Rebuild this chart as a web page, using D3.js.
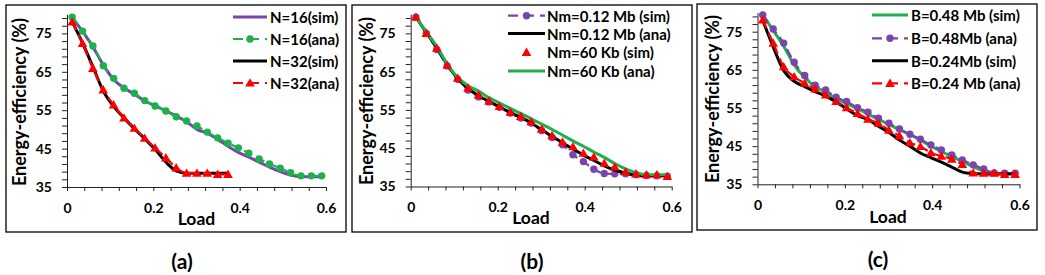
<!DOCTYPE html>
<html><head><meta charset="utf-8">
<script src="https://cdn.jsdelivr.net/npm/d3@7"></script>
<style>
body{margin:0;background:#fff}
text{font-family:Lato,"Open Sans",sans-serif;font-weight:700;fill:#000}
</style>
</head><body><svg id="c" width="1045" height="275"></svg>
<script>
// ---------- data ----------
const loads = [0.012,0.036,0.060,0.084,0.108,0.132,0.156,0.180,0.204,0.229,0.253,0.277,0.301,0.325,0.349,0.373,0.397,0.421,0.445,0.469,0.494,0.518,0.542,0.566,0.590];
const loadsN32 = [0.012,0.036,0.060,0.084,0.108,0.132,0.156,0.180,0.204,0.229,0.253,0.277,0.301,0.325,0.349,0.373];

const yTickLabels = [35,45,55,65,75];
const xTickLabels = [0,0.2,0.4,0.6];
const panelTitles = ["(a)","(b)","(c)"];
const yTitle = "Energy-efficiency (%)";
const xTitle = "Load";

// (a)
const aN16sim = [79.2,75.5,71.5,66.8,63.0,60.8,59.2,57.4,56.2,54.8,53.5,52.0,50.0,49.0,47.4,45.6,44.0,42.8,41.5,40.2,39.0,38.1,37.7,37.7,37.7];
const aN16ana = [79.2,75.6,71.7,66.6,63.3,60.7,59.4,57.5,56.1,54.8,53.3,52.2,50.9,49.3,47.8,46.4,45.2,43.8,42.3,41.0,39.9,38.7,37.9,37.9,37.9];
const aN32sim = [78.0,72.5,66.3,60.0,56.0,53.0,50.2,47.6,44.8,41.5,39.2,38.6,38.6,38.6,38.6,38.6];
const aN32ana = [78.0,72.4,65.9,60.3,56.4,53.0,50.3,47.7,45.2,42.6,40.0,38.6,38.6,38.6,38.3,38.3];
// (b)
const bNm012sim = [79.2,75.0,70.8,66.5,63.0,60.2,58.4,57.1,55.7,54.2,52.9,51.6,49.6,47.8,45.9,43.3,41.5,39.5,38.4,38.3,38.3,38.1,37.9,37.8,37.7];
const bNm012ana = [79.2,75.2,71.3,66.8,63.2,60.6,58.7,57.2,55.8,54.3,53.0,51.6,49.8,48.1,46.4,44.8,43.2,41.8,40.4,39.3,38.5,37.9,37.8,37.8,37.8];
const bNm60sim  = [79.2,75.0,71.1,66.7,63.3,60.7,58.9,57.3,55.9,54.4,53.3,51.9,50.0,48.3,46.6,45.4,43.7,42.7,41.1,40.1,38.8,38.3,38.1,38.1,37.6];
const bNm60ana  = [79.2,75.4,71.6,67.0,63.5,61.3,59.9,58.2,56.8,55.4,54.1,52.7,51.3,49.9,48.4,46.9,45.5,44.0,42.6,41.0,39.6,38.6,38.1,38.1,38.1];
// (c)
const cB048sim = [79.4,75.3,71.2,66.3,63.0,60.6,59.2,57.4,56.2,54.8,53.4,52.0,50.7,49.3,48.0,46.6,45.0,43.6,42.3,41.0,39.6,38.5,37.9,37.8,37.8];
const cB048ana = [79.4,75.7,72.0,67.0,63.5,61.0,59.7,57.8,56.7,55.1,53.9,52.3,51.0,49.5,48.1,46.8,45.3,44.0,42.7,41.4,40.1,39.0,38.0,37.9,37.9];
const cB024sim = [78.0,71.0,64.8,62.0,60.6,59.3,58.1,56.6,54.8,53.0,52.0,50.2,48.6,46.6,45.0,43.2,42.0,40.8,39.5,38.2,37.8,37.7,37.7,37.7,37.7];
const cB024ana = [78.1,72.0,65.8,63.2,61.5,60.0,58.4,56.7,55.1,53.6,52.1,51.0,49.2,47.7,45.9,44.9,43.3,42.4,41.6,40.2,38.0,37.9,37.9,37.6,37.6];

// ---------- styles ----------
const PURPLE = "#7a44ad", GREEN = "#1db14b", RED = "#ff0000", BLACK = "#000000";
const DASH = "9,5";

const panels = [
  {box:[6,5,346,232], x0:67, x1:326, yb:187, yt:14.2, title:[182,269], ytitle:[19,102], xtitle:[196.5,225],
   legend:{x1:233,x2:267,tx:270,rows:[17,39,61,83],fs:15},
   series:[
     {name:"N=16(sim)", xs:loads, ys:aN16sim, color:PURPLE, line:true, dash:null, marker:null},
     {name:"N=16(ana)", xs:loads, ys:aN16ana, color:GREEN, line:true, dash:DASH, marker:"circle"},
     {name:"N=32(sim)", xs:loadsN32, ys:aN32sim, color:BLACK, line:true, dash:null, marker:null},
     {name:"N=32(ana)", xs:loadsN32, ys:aN32ana, color:RED, line:true, dash:DASH, marker:"triangle"}
   ]},
  {box:[352,5,692,232], x0:410.7, x1:671.7, yb:186.5, yt:14.2, title:[532,269], ytitle:[366,101], xtitle:[531,224],
   legend:{x1:508,x2:545,tx:547,rows:[15.7,33.5,52.3,71],fs:15},
   series:[
     {name:"Nm=0.12 Mb (sim)", xs:loads, ys:bNm012sim, color:PURPLE, line:true, dash:DASH, marker:"circle"},
     {name:"Nm=0.12 Mb (ana)", xs:loads, ys:bNm012ana, color:BLACK, line:true, dash:null, marker:null},
     {name:"Nm=60 Kb (ana)", xs:loads, ys:bNm60ana, color:GREEN, line:true, dash:null, marker:null, legendIndex:3},
     {name:"Nm=60 Kb (sim)", xs:loads, ys:bNm60sim, color:RED, line:false, dash:null, marker:"triangle", legendIndex:2}
   ]},
  {box:[697,4,1037,230], x0:757.5, x1:1019.5, yb:184.3, yt:12.6, title:[878,267], ytitle:[712,99], xtitle:[888,222.5],
   legend:{x1:872,x2:908,tx:911,rows:[15,38.3,60.7,83.3],fs:15},
   series:[
     {name:"B=0.48 Mb (sim)", xs:loads, ys:cB048sim, color:GREEN, line:true, dash:null, marker:null},
     {name:"B=0.48Mb (ana)", xs:loads, ys:cB048ana, color:PURPLE, line:true, dash:DASH, marker:"circle"},
     {name:"B=0.24Mb (sim)", xs:loads, ys:cB024sim, color:BLACK, line:true, dash:null, marker:null},
     {name:"B=0.24 Mb (ana)", xs:loads, ys:cB024ana, color:RED, line:true, dash:DASH, marker:"triangle"}
   ]}
];

const svg = d3.select("#c");
const triSym = d3.symbol().type(d3.symbolTriangle).size(40);

function drawMarker(g, type, cx, cy, color){
  if(type==="circle"){
    g.append("circle").attr("cx",cx).attr("cy",cy).attr("r",3.7).attr("fill",color);
  } else if(type==="triangle"){
    g.append("path").attr("d",triSym()).attr("transform",`translate(${cx},${cy+0.8})`).attr("fill",color);
  }
}

panels.forEach((p,pi)=>{
  const g = svg.append("g");
  g.append("rect").attr("x",p.box[0]).attr("y",p.box[1])
    .attr("width",p.box[2]-p.box[0]).attr("height",p.box[3]-p.box[1])
    .attr("fill","none").attr("stroke","#000").attr("stroke-width",1.3);

  const x = d3.scaleLinear().domain([0,0.6]).range([p.x0,p.x1]);
  const y = d3.scaleLinear().domain([35,80]).range([p.yb,p.yt]);

  // y axis
  const yAxis = d3.axisLeft(y).tickValues(d3.range(35,80,2)).tickSize(5).tickSizeOuter(0).tickPadding(10)
    .tickFormat(d=> yTickLabels.includes(d) ? d : "");
  const ya = g.append("g").attr("transform",`translate(${p.x0},0)`).call(yAxis);
  ya.select(".domain").attr("stroke","#222").attr("stroke-width",1);
  ya.selectAll(".tick line").attr("stroke","#222");
  ya.selectAll(".tick text").attr("font-size",14).attr("font-family","Lato").attr("font-weight",700).attr("fill","#000");

  // x axis
  const xAxis = d3.axisBottom(x).tickValues(d3.range(0,0.6001,0.04)).tickSize(4).tickSizeOuter(0).tickPadding(12)
    .tickFormat(d=> { const m = xTickLabels.find(v=>Math.abs(v-d)<1e-6); return m===undefined ? "" : String(m); });
  const xa = g.append("g").attr("transform",`translate(0,${p.yb})`).call(xAxis);
  xa.select(".domain").attr("stroke","#222").attr("stroke-width",1);
  xa.selectAll(".tick line").attr("stroke","#222");
  xa.selectAll(".tick text").attr("font-size",14).attr("font-family","Lato").attr("font-weight",700).attr("fill","#000");

  // series
  p.series.forEach(s=>{
    const pts = s.xs.map((xv,i)=>[x(xv), y(s.ys[i])]);
    if(s.line){
      g.append("path").attr("d", d3.line().curve(d3.curveMonotoneX)(pts))
        .attr("fill","none").attr("stroke",s.color)
        .attr("stroke-width", s.dash ? 2.2 : 3)
        .attr("stroke-dasharray", s.dash || null)
        .attr("stroke-linejoin","round");
    }
    if(s.marker){
      pts.forEach(pt=>drawMarker(g, s.marker, pt[0], pt[1], s.color));
    }
  });

  // legend
  const L = p.legend;
  p.series.forEach((s,i)=>{
    const idx = s.legendIndex!==undefined ? s.legendIndex : i;
    const ry = L.rows[idx];
    if(s.line){
      g.append("line").attr("x1",L.x1).attr("x2",L.x2).attr("y1",ry).attr("y2",ry)
        .attr("stroke",s.color).attr("stroke-width", s.dash?2.2:3)
        .attr("stroke-dasharray", s.dash ? "10,6" : null);
    }
    if(s.marker) drawMarker(g, s.marker, (L.x1+L.x2)/2, ry, s.color);
    g.append("text").attr("x",L.tx).attr("y",ry).attr("dominant-baseline","central")
      .attr("font-size",L.fs).text(s.name);
  });

  // titles
  g.append("text").attr("transform",`translate(${p.ytitle[0]},${p.ytitle[1]}) rotate(-90)`)
    .attr("text-anchor","middle").attr("dominant-baseline","central").attr("font-size",18).text(yTitle);
  g.append("text").attr("x",p.xtitle[0]).attr("y",p.xtitle[1]).attr("text-anchor","middle")
    .attr("font-size",17.5).text(xTitle);
  svg.append("text").attr("x",p.title[0]).attr("y",p.title[1]).attr("text-anchor","middle")
    .attr("font-size",21).text(panelTitles[pi]);
});
</script>
</body></html>
